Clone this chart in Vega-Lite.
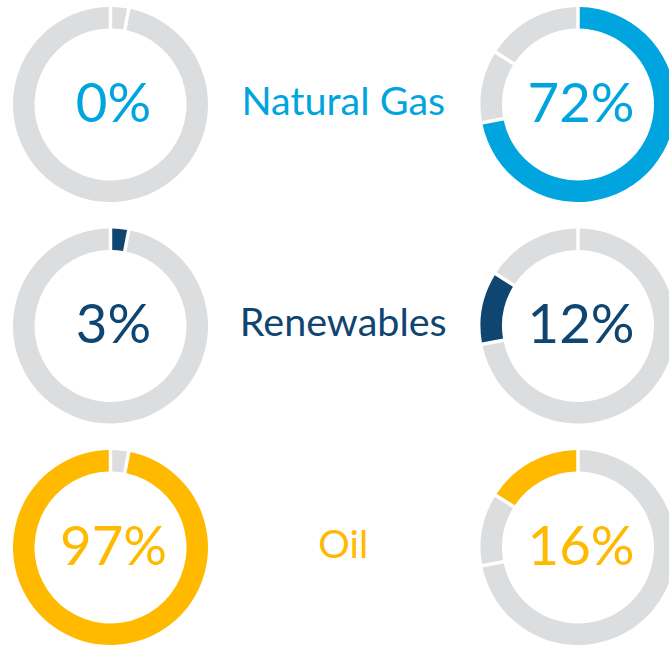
{
  "$schema": "https://vega.github.io/schema/vega-lite/v6.json",
  "width": 669,
  "height": 646,
  "padding": 0,
  "autosize": {"type": "none"},
  "background": "white",
  "config": {"view": {"stroke": null}},
  "datasets": {
    "shares": [
      {"col": "left", "energy": "Natural Gas", "segment": "Natural Gas", "value": 0},
      {"col": "left", "energy": "Natural Gas", "segment": "Renewables", "value": 3},
      {"col": "left", "energy": "Natural Gas", "segment": "Oil", "value": 97},
      {"col": "right", "energy": "Natural Gas", "segment": "Natural Gas", "value": 72},
      {"col": "right", "energy": "Natural Gas", "segment": "Renewables", "value": 12},
      {"col": "right", "energy": "Natural Gas", "segment": "Oil", "value": 16},
      {"col": "left", "energy": "Renewables", "segment": "Natural Gas", "value": 0},
      {"col": "left", "energy": "Renewables", "segment": "Renewables", "value": 3},
      {"col": "left", "energy": "Renewables", "segment": "Oil", "value": 97},
      {"col": "right", "energy": "Renewables", "segment": "Natural Gas", "value": 72},
      {"col": "right", "energy": "Renewables", "segment": "Renewables", "value": 12},
      {"col": "right", "energy": "Renewables", "segment": "Oil", "value": 16},
      {"col": "left", "energy": "Oil", "segment": "Natural Gas", "value": 0},
      {"col": "left", "energy": "Oil", "segment": "Renewables", "value": 3},
      {"col": "left", "energy": "Oil", "segment": "Oil", "value": 97},
      {"col": "right", "energy": "Oil", "segment": "Natural Gas", "value": 72},
      {"col": "right", "energy": "Oil", "segment": "Renewables", "value": 12},
      {"col": "right", "energy": "Oil", "segment": "Oil", "value": 16}
    ],
    "labels": [
      {"col": "middle", "energy": "Natural Gas"},
      {"col": "middle", "energy": "Renewables"},
      {"col": "middle", "energy": "Oil"}
    ]
  },
  "encoding": {
    "x": {"field": "col", "type": "nominal", "scale": {"type": "point", "domain": ["left", "middle", "right"], "range": [110.5, 578], "padding": 0}, "axis": null},
    "y": {"field": "energy", "type": "nominal", "scale": {"type": "point", "domain": ["Natural Gas", "Renewables", "Oil"], "range": [104.5, 547.5], "padding": 0}, "axis": null}
  },
  "layer": [
    {
      "data": {"name": "shares"},
      "transform": [
        {"stack": "value", "groupby": ["col", "energy"], "as": ["v0", "v1"]}
      ],
      "mark": {"type": "arc", "innerRadius": 76, "outerRadius": 97.5, "padAngle": 0.028},
      "encoding": {
        "theta": {"field": "v0", "type": "quantitative", "scale": {"domain": [0, 100], "range": [0, 6.283185307]}},
        "theta2": {"field": "v1"},
        "color": {
          "condition": {"test": "datum.segment === datum.energy", "field": "segment", "type": "nominal",
            "scale": {"domain": ["Natural Gas", "Renewables", "Oil"], "range": ["#00a5df", "#0e4571", "#ffba00"]},
            "legend": null},
          "value": "#dcdddf"
        }
      }
    },
    {
      "data": {"name": "shares"},
      "transform": [
        {"filter": "datum.segment === datum.energy"},
        {"calculate": "datum.value + '%'", "as": "label"}
      ],
      "mark": {"type": "text", "font": "Lato", "fontSize": 54.5, "baseline": "alphabetic", "align": "center", "dy": 17, "dx": 3},
      "encoding": {
        "text": {"field": "label"},
        "color": {"field": "energy", "type": "nominal", "legend": null}
      }
    },
    {
      "data": {"name": "labels"},
      "mark": {"type": "text", "font": "Lato", "fontSize": 39.5, "baseline": "alphabetic", "align": "center", "dy": 10, "dx": -1},
      "encoding": {
        "text": {"field": "energy"},
        "color": {"field": "energy", "type": "nominal", "legend": null}
      }
    }
  ]
}
